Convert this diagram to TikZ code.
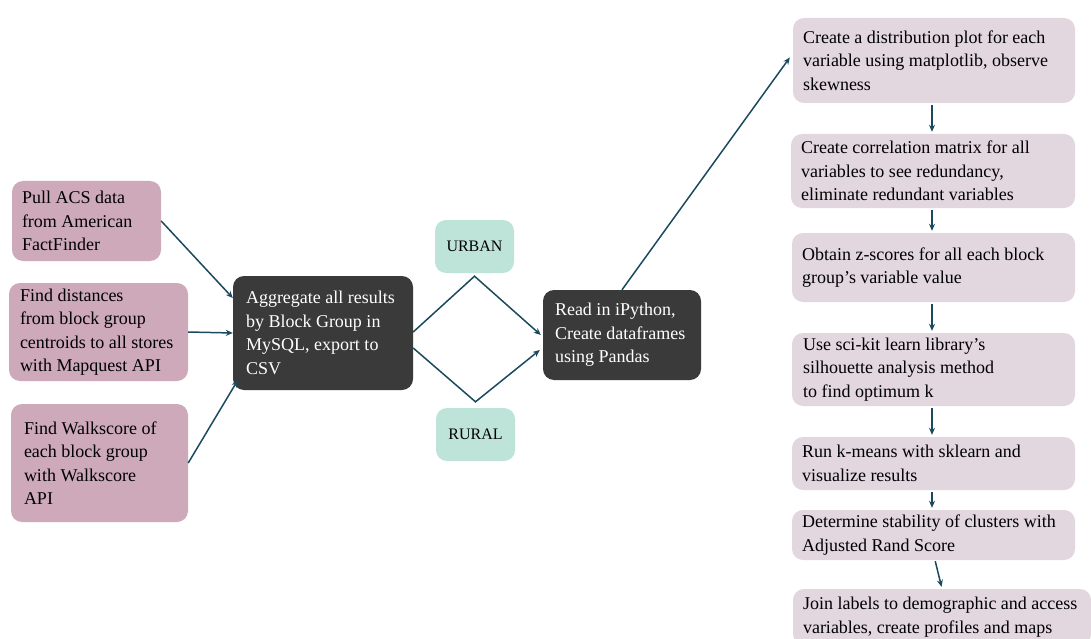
\documentclass[tikz,border=0pt]{standalone}
\usepackage{fontspec}
\setmainfont{Liberation Serif}
\usetikzlibrary{arrows.meta}
\definecolor{pinkc}{HTML}{CDA9BA}
\definecolor{darkc}{HTML}{3A3A3A}
\definecolor{tealc}{HTML}{BEE3D8}
\definecolor{lavc}{HTML}{E2D6DF}
\definecolor{arrc}{HTML}{1B4A5E}
\tikzset{
  box/.style={rounded corners=11pt, inner ysep=0pt, align=flush left,
    font=\fontsize{18}{23.5}\selectfont, draw=none},
  pinkbox/.style={box, fill=pinkc, text=black},
  darkbox/.style={box, fill=darkc, text=white},
  tealbox/.style={box, fill=tealc, text=black, align=center, font=\fontsize{16}{20}\selectfont},
  lavbox/.style={box, fill=lavc, text=black},
  arr/.style={-{Stealth[length=7pt,width=6pt]}, draw=arrc, line width=1.5pt},
}
\begin{document}
\begin{tikzpicture}[x=1pt,y=-1pt]
\clip (0,0) rectangle (1091,639);
\fill[white] (0,0) rectangle (1091,639);

% left column
\node[pinkbox, minimum width=149pt, minimum height=80pt, text width=129pt, inner xsep=10pt] (pull) at (86.5,221)
  {\mbox{Pull ACS data}\\\mbox{from American}\\\mbox{FactFinder}};
\node[pinkbox, minimum width=179pt, minimum height=98pt, text width=157pt, inner xsep=11pt] (dist) at (98.5,332)
  {\mbox{Find distances}\\\mbox{from block group}\\\mbox{centroids to all stores}\\\mbox{with Mapquest API}};
\node[pinkbox, minimum width=177pt, minimum height=118pt, text width=151pt, inner xsep=13pt] (walk) at (99.5,463)
  {\mbox{Find Walkscore of}\\\mbox{each block group}\\\mbox{with Walkscore}\\\mbox{API}};

\node[darkbox, minimum width=180pt, minimum height=114pt, text width=154pt, inner xsep=13pt] (agg) at (323,333)
  {\mbox{Aggregate all results}\\\mbox{by Block Group in}\\\mbox{MySQL, export to}\\\mbox{CSV}};

\node[tealbox, minimum width=79pt, minimum height=53pt, inner xsep=0pt] (urban) at (474.5,246.5) {URBAN};
\node[tealbox, minimum width=79pt, minimum height=53pt, inner xsep=0pt] (rural) at (475.5,434.5) {RURAL};

\node[darkbox, minimum width=158pt, minimum height=90pt, text width=134pt, inner xsep=12pt] (read) at (622,335)
  {\mbox{Read in iPython,}\\\mbox{Create dataframes}\\\mbox{using Pandas}};

% right column
\node[lavbox, minimum width=282pt, minimum height=85pt, text width=262pt, inner xsep=10pt] (r1) at (934,60.5)
  {\mbox{Create a distribution plot for each}\\\mbox{variable using matplotlib, observe}\\\mbox{skewness}};
\node[lavbox, minimum width=284pt, minimum height=74pt, text width=264pt, inner xsep=10pt] (r2) at (933,171)
  {\mbox{Create correlation matrix for all}\\\mbox{variables to see redundancy,}\\\mbox{eliminate redundant variables}};
\node[lavbox, minimum width=283pt, minimum height=69pt, text width=263pt, inner xsep=10pt] (r3) at (933.5,267.5)
  {\mbox{Obtain z-scores for all each block}\\\mbox{group’s variable value}};
\node[lavbox, minimum width=283pt, minimum height=73pt, text width=261pt, inner xsep=11pt] (r4) at (933.5,369.5)
  {\mbox{Use sci-kit learn library’s}\\\mbox{silhouette analysis method}\\\mbox{to find optimum k}};
\node[lavbox, minimum width=283pt, minimum height=53pt, text width=263pt, inner xsep=10pt] (r5) at (933.5,463.5)
  {\mbox{Run k-means with sklearn and}\\\mbox{visualize results}};
\node[lavbox, minimum width=283pt, minimum height=50pt, text width=263pt, inner xsep=10pt] (r6) at (933.5,535)
  {\mbox{Determine stability of clusters with}\\\mbox{Adjusted Rand Score}};
\node[lavbox, minimum width=298pt, minimum height=56pt, text width=278pt, inner xsep=10pt] (r7) at (942,617)
  {\mbox{Join labels to demographic and access}\\\mbox{variables, create profiles and maps}};

% connectors
\draw[arr] (pull.east) -- ([yshift=35pt]agg.west);
\draw[arr] (dist.east) -- (agg.west);
\draw[arr] (walk.east) -- ([xshift=5pt,yshift=10pt]agg.south west);

\draw[arr] ([yshift=1pt]agg.east) -- ([yshift=-3pt]urban.south) -- ([xshift=-2pt]read.west);
\draw[arr] ([yshift=-15pt]agg.east) -- ([yshift=6pt]rural.north) -- ([xshift=-3pt,yshift=-15pt]read.west);

\draw[arr] (read.north) -- ([xshift=-3pt,yshift=3pt]r1.west);

\draw[arr, shorten <=2pt, shorten >=2pt] ([xshift=-2pt]r1.south) -- ([xshift=-1pt]r2.north);
\draw[arr, shorten <=2pt, shorten >=2pt] ([xshift=-1pt]r2.south) -- ([xshift=-1.5pt]r3.north);
\draw[arr, shorten <=2pt, shorten >=2pt] ([xshift=-1.5pt]r3.south) -- ([xshift=-1.5pt]r4.north);
\draw[arr, shorten <=2pt, shorten >=2pt] ([xshift=-1.5pt]r4.south) -- ([xshift=-1.5pt]r5.north);
\draw[arr, shorten <=2pt, shorten >=2pt] ([xshift=-1.5pt]r5.south) -- ([xshift=-1.5pt]r6.north);
\draw[arr, shorten <=1pt, shorten >=2pt] ([xshift=1.5pt]r6.south) -- (r7.north);
\end{tikzpicture}
\end{document}
